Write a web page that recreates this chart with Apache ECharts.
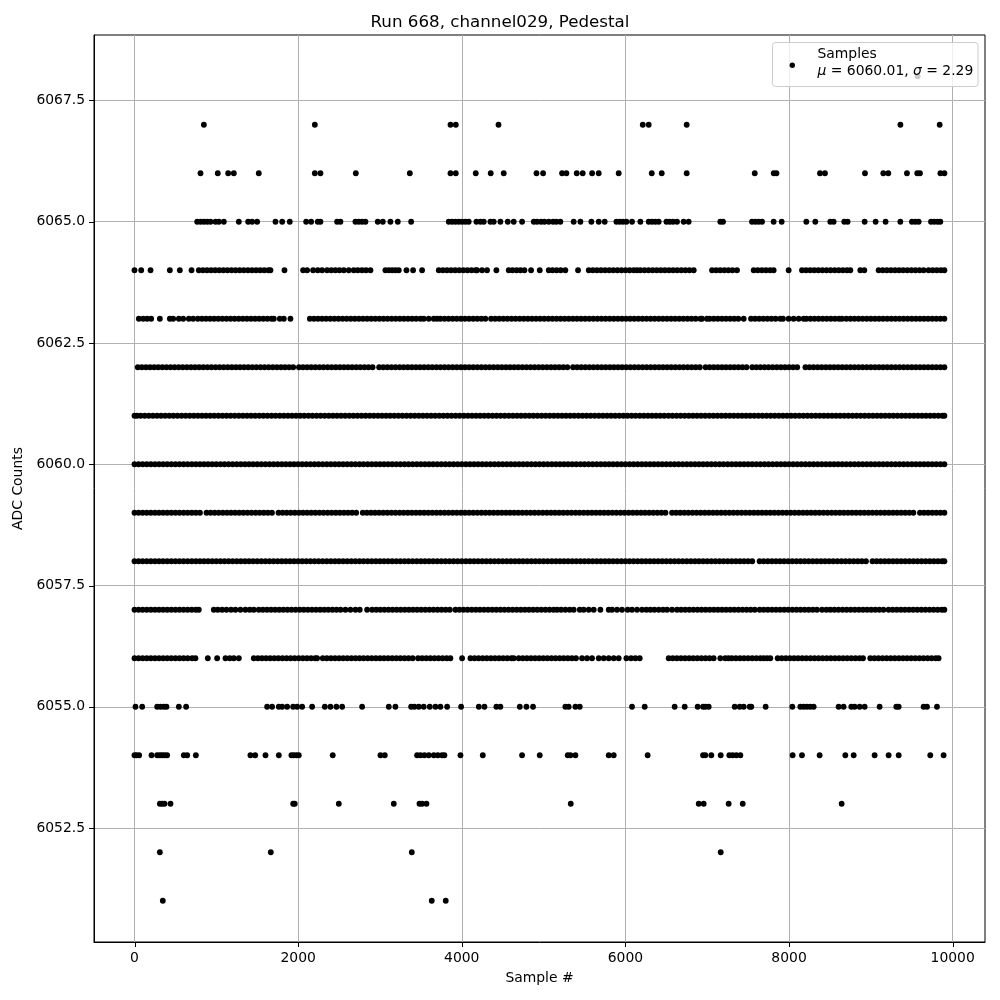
<!DOCTYPE html>
<html><head><meta charset="utf-8">
<script src="https://cdn.jsdelivr.net/npm/echarts@6/dist/echarts.min.js"></script>
<style>html,body{margin:0;padding:0;background:#fff}#c{width:1000px;height:1000px}</style>
</head><body><div id="c"></div>
<script>
// ---- data: sample indices (x) at each ADC level (y) ----
const levels = [6051,6052,6053,6054,6055,6056,6057,6058,6059,6060,6061,6062,6063,6064,6065,6066,6067,6068];

const lvl6051 = [346,3633,3804];
const lvl6052 = [310,1666,3389,7165];
const lvl6053 = [310,338,367,440,1939,1959,2497,3169,3483,3515,3568,5332,6896,6957,7262,7434,8643];
const lvl6054 = [0,25,57,208,277,310,338,367,399,603,644,750,1417,1475,1601,1764,1918,1947,1980,2008,2423,3006,3059,3454,3495,3544,3597,3658,3707,3759,3788,3984,4257,4737,4953,5295,5328,5389,5796,5857,6272,6949,6977,7050,7165,7270,7311,7356,7405,8044,8158,8374,8688,8790,9046,9217,9340,9726,9889];
const lvl6055 = [12,94,277,318,358,391,542,631,1621,1682,1764,1805,1866,1939,1988,2049,2171,2326,2395,2468,2538,2782,3108,3189,3381,3421,3474,3535,3609,3678,3739,3821,3992,4208,4277,4423,4472,4709,4790,4871,5266,5307,5389,5442,6081,6236,6602,6725,6883,6949,6977,7018,7336,7397,7446,7519,7539,7714,8040,8138,8179,8219,8260,8301,8606,8667,8761,8802,8863,8924,9107,9311,9340,9645,9686,9808];
const lvl6056 = [0,50,100,150,200,250,300,350,400,450,500,550,600,650,705,745,896,1010,1112,1165,1214,1275,1458,1508,1558,1608,1658,1708,1758,1808,1858,1908,1958,2008,2058,2108,2158,2208,2232,2301,2351,2401,2451,2501,2551,2601,2651,2701,2750,2800,2850,2900,2950,3000,3050,3100,3150,3200,3250,3300,3350,3400,3466,3516,3566,3616,3666,3716,3766,3816,3861,4004,4106,4156,4206,4256,4306,4356,4406,4456,4506,4556,4606,4635,4696,4746,4796,4846,4896,4946,4996,5046,5096,5146,5196,5246,5296,5346,5396,5470,5531,5592,5674,5735,5796,5857,5918,6012,6069,6122,6175,6529,6579,6629,6679,6729,6779,6829,6879,6929,6979,7029,7079,7160,7220,7260,7300,7350,7400,7450,7500,7550,7600,7650,7690,7731,7771,7861,7911,7961,8011,8061,8111,8161,8211,8261,8311,8361,8411,8461,8511,8561,8611,8661,8711,8761,8811,8861,8904,8993,9043,9093,9143,9193,9243,9293,9343,9393,9443,9493,9543,9593,9643,9693,9743,9793,9828];
const lvl6057 = [0,50,100,150,200,250,300,350,400,450,500,550,600,650,700,750,786,969,1018,1071,1124,1181,1234,1295,1356,1409,1458,1519,1569,1619,1669,1719,1769,1819,1869,1919,1969,2019,2069,2119,2169,2219,2269,2319,2369,2419,2469,2519,2578,2639,2700,2753,2843,2904,2954,3004,3054,3104,3154,3204,3254,3304,3354,3404,3454,3504,3554,3604,3654,3704,3754,3804,3854,3922,3972,4022,4072,4122,4172,4222,4272,4322,4372,4422,4472,4522,4572,4622,4672,4722,4772,4822,4872,4922,4972,5022,5072,5122,5165,5214,5266,5319,5368,5442,5490,5552,5613,5694,5796,5837,5898,5959,6028,6081,6142,6203,6256,6305,6354,6407,6460,6509,6570,6631,6681,6731,6781,6831,6881,6931,6981,7031,7081,7131,7181,7231,7281,7331,7381,7431,7481,7531,7581,7641,7691,7741,7791,7841,7891,7941,7991,8041,8091,8141,8191,8241,8291,8341,8403,8456,8504,8554,8604,8654,8704,8754,8804,8854,8904,8954,9004,9054,9104,9154,9217,9267,9317,9367,9417,9467,9517,9567,9617,9667,9717,9767,9817,9867,9899];
const lvl6058 = [0,50,100,150,200,250,300,350,400,450,500,550,600,650,700,750,800,850,900,950,1000,1050,1100,1150,1200,1250,1300,1350,1400,1450,1500,1550,1600,1650,1700,1750,1800,1850,1900,1950,2000,2050,2100,2150,2200,2250,2300,2350,2400,2450,2500,2550,2600,2650,2700,2750,2800,2850,2900,2950,3000,3050,3100,3150,3200,3250,3300,3350,3400,3450,3500,3550,3600,3650,3700,3750,3800,3850,3900,3950,4000,4050,4100,4150,4200,4250,4300,4350,4400,4450,4500,4550,4600,4650,4700,4750,4800,4850,4900,4950,5000,5050,5100,5150,5200,5250,5300,5350,5400,5450,5500,5550,5600,5650,5700,5750,5800,5850,5900,5950,6000,6050,6100,6150,6200,6250,6300,6350,6400,6450,6500,6550,6600,6650,6700,6750,6800,6850,6900,6950,7000,7050,7100,7150,7200,7250,7300,7350,7400,7450,7500,7550,7640,7690,7740,7790,7840,7890,7940,7990,8040,8090,8140,8190,8240,8290,8340,8390,8440,8490,8540,8590,8640,8690,8740,8790,8840,8890,8940,9020,9070,9120,9170,9220,9270,9320,9370,9420,9470,9520,9570,9620,9670,9720,9770,9820,9870,9899];
const lvl6059 = [0,50,100,150,200,250,300,350,400,450,500,550,600,650,700,750,800,880,930,980,1030,1080,1130,1180,1230,1280,1330,1380,1430,1480,1530,1580,1630,1680,1760,1810,1860,1910,1960,2010,2060,2110,2160,2210,2260,2310,2360,2410,2460,2510,2560,2610,2660,2710,2790,2840,2890,2940,2990,3040,3090,3140,3190,3240,3290,3340,3390,3440,3490,3540,3590,3640,3690,3740,3790,3840,3890,3940,3990,4040,4090,4140,4190,4240,4290,4340,4390,4440,4490,4540,4590,4640,4690,4740,4790,4840,4890,4940,4990,5040,5090,5140,5190,5240,5290,5340,5390,5440,5490,5540,5590,5640,5690,5740,5790,5840,5890,5940,5990,6040,6090,6140,6190,6240,6290,6340,6390,6440,6490,6570,6620,6670,6720,6770,6820,6870,6920,6970,7020,7070,7120,7170,7220,7270,7320,7370,7420,7470,7520,7570,7620,7670,7720,7770,7820,7870,7920,7970,8020,8070,8120,8170,8220,8270,8320,8370,8420,8470,8520,8570,8620,8670,8720,8770,8820,8870,8920,8970,9020,9070,9120,9170,9220,9270,9320,9370,9420,9470,9520,9600,9650,9700,9750,9800,9850,9899];
const lvl6060 = [0,50,100,150,200,250,300,350,400,450,500,550,600,650,700,750,800,850,900,950,1000,1050,1100,1150,1200,1250,1300,1350,1400,1450,1500,1550,1600,1650,1700,1750,1800,1850,1900,1950,2000,2050,2100,2150,2200,2250,2300,2350,2400,2450,2500,2550,2600,2650,2700,2750,2800,2850,2900,2950,3000,3050,3100,3150,3200,3250,3300,3350,3400,3450,3500,3550,3600,3650,3700,3750,3800,3850,3900,3950,4000,4050,4100,4150,4200,4250,4300,4350,4400,4450,4500,4550,4600,4650,4700,4750,4800,4850,4900,4950,5000,5050,5100,5150,5200,5250,5300,5350,5400,5450,5500,5550,5600,5650,5700,5750,5800,5850,5900,5950,6000,6050,6100,6150,6200,6250,6300,6350,6400,6450,6500,6550,6600,6650,6700,6750,6800,6850,6900,6950,7000,7050,7100,7150,7200,7250,7300,7350,7400,7450,7500,7550,7600,7650,7700,7750,7800,7850,7900,7950,8000,8050,8100,8150,8200,8250,8300,8350,8400,8450,8500,8550,8600,8650,8700,8750,8800,8850,8900,8950,9000,9050,9100,9150,9200,9250,9300,9350,9400,9450,9500,9550,9600,9650,9700,9750,9800,9850,9899];
const lvl6061 = [0,30,75,125,175,225,275,325,375,425,475,525,575,625,675,725,775,825,875,925,975,1025,1075,1125,1175,1225,1275,1325,1375,1425,1475,1525,1575,1625,1675,1725,1775,1825,1875,1925,1975,2025,2075,2125,2175,2225,2275,2325,2375,2425,2475,2525,2575,2625,2675,2725,2775,2825,2875,2925,2975,3025,3075,3125,3175,3225,3275,3325,3375,3425,3475,3525,3575,3625,3675,3725,3775,3825,3875,3925,3975,4025,4075,4125,4175,4225,4275,4325,4375,4425,4475,4525,4575,4625,4675,4725,4775,4825,4875,4925,4975,5025,5075,5125,5175,5225,5275,5325,5375,5425,5475,5525,5575,5625,5675,5725,5775,5825,5875,5925,5975,6025,6075,6125,6175,6225,6275,6325,6375,6425,6475,6525,6575,6625,6675,6725,6775,6825,6875,6925,6975,7025,7075,7125,7175,7225,7275,7325,7375,7425,7475,7525,7575,7625,7675,7725,7775,7825,7875,7925,7975,8025,8075,8125,8175,8225,8275,8325,8375,8425,8475,8525,8575,8625,8675,8725,8775,8825,8875,8925,8975,9025,9075,9125,9175,9225,9275,9325,9375,9425,9475,9525,9575,9625,9675,9725,9775,9825,9875,9899];
const lvl6062 = [40,90,140,190,240,290,340,390,440,490,540,590,640,690,740,790,840,890,940,990,1040,1090,1140,1190,1240,1290,1340,1390,1440,1490,1540,1590,1640,1690,1740,1790,1840,1890,1940,2010,2060,2110,2160,2210,2260,2310,2360,2410,2460,2510,2560,2610,2660,2710,2760,2810,2860,2910,2990,3040,3090,3140,3190,3240,3290,3340,3390,3440,3490,3540,3590,3640,3690,3740,3790,3840,3890,3940,3990,4040,4090,4140,4190,4240,4290,4340,4390,4440,4490,4540,4590,4640,4690,4740,4790,4840,4890,4940,4990,5040,5090,5140,5190,5240,5290,5360,5410,5460,5510,5560,5610,5660,5710,5760,5810,5860,5910,5960,6010,6060,6110,6160,6210,6260,6310,6360,6410,6460,6510,6560,6610,6660,6710,6760,6810,6860,6910,6980,7030,7080,7130,7180,7230,7280,7330,7380,7430,7480,7550,7600,7650,7700,7750,7800,7850,7900,7950,8000,8050,8100,8200,8250,8300,8350,8400,8450,8500,8550,8600,8650,8700,8750,8800,8850,8900,8950,9000,9050,9100,9150,9200,9250,9300,9350,9400,9450,9500,9550,9600,9650,9700,9750,9800,9850,9899];
const lvl6063 = [53,106,155,204,310,432,473,542,595,664,717,774,824,874,924,974,1024,1074,1124,1174,1224,1274,1324,1374,1424,1474,1524,1574,1624,1674,1703,1776,1825,1906,2143,2193,2243,2293,2343,2393,2443,2493,2543,2593,2643,2693,2743,2793,2843,2893,2943,2993,3043,3093,3143,3193,3243,3293,3343,3393,3443,3495,3535,3596,3658,3698,3739,3789,3839,3889,3939,3989,4039,4089,4139,4189,4239,4289,4358,4408,4458,4508,4558,4608,4658,4708,4758,4808,4858,4908,4958,5008,5058,5108,5158,5208,5258,5308,5358,5408,5458,5508,5558,5608,5658,5708,5758,5808,5858,5908,5958,6008,6058,6108,6158,6208,6258,6308,6358,6408,6458,6508,6558,6608,6658,6708,6758,6808,6858,6916,6936,6997,7030,7080,7130,7180,7230,7280,7330,7380,7446,7535,7585,7635,7685,7735,7785,7835,7893,7926,7995,8056,8118,8179,8211,8261,8311,8361,8411,8461,8511,8561,8611,8647,8700,8750,8800,8850,8900,8950,9000,9050,9100,9150,9200,9250,9300,9350,9400,9450,9500,9550,9600,9650,9700,9750,9800,9850,9899];
const lvl6064 = [0,82,196,432,554,697,786,836,886,936,986,1036,1086,1136,1186,1236,1286,1336,1386,1436,1486,1536,1586,1636,1662,1833,2061,2110,2183,2240,2293,2354,2405,2455,2505,2558,2619,2680,2729,2780,2830,2884,3067,3110,3150,3190,3230,3324,3405,3515,3719,3769,3819,3869,3919,3969,4019,4069,4119,4169,4187,4248,4309,4423,4574,4620,4670,4717,4766,4847,4953,5063,5110,5160,5210,5266,5421,5552,5602,5652,5702,5752,5802,5852,5902,5952,6002,6052,6102,6142,6183,6233,6283,6333,6383,6433,6483,6533,6583,6633,6683,6733,6783,6835,7059,7109,7159,7209,7259,7309,7364,7568,7618,7668,7718,7768,7812,7995,8158,8208,8258,8308,8358,8408,8458,8508,8558,8608,8658,8708,8749,8871,8920,9095,9145,9195,9245,9295,9345,9395,9445,9495,9545,9595,9645,9706,9756,9806,9856,9899];
const lvl6065 = [766,807,847,888,929,990,1031,1092,1275,1389,1438,1499,1723,1805,1898,2098,2159,2240,2273,2476,2517,2700,2741,2782,2823,2973,3035,3128,3218,3381,3841,3882,3922,3963,4004,4045,4085,4179,4228,4269,4350,4391,4472,4562,4635,4737,4880,4920,4969,5010,5063,5116,5156,5205,5368,5450,5584,5674,5747,5890,5930,5971,6012,6081,6183,6285,6325,6366,6407,6501,6541,6582,6631,6712,6773,7160,7193,7547,7588,7629,7670,7812,7910,8211,8321,8504,8545,8675,8716,8924,9058,9180,9360,9502,9543,9584,9735,9775,9816,9849];
const lvl6066 = [807,1018,1145,1214,1519,2204,2273,2705,3365,3862,3927,4171,4354,4513,4913,4994,5226,5279,5405,5478,5593,5674,5918,6322,6444,6749,7581,7813,7846,8378,8439,8928,9152,9213,9441,9567,9600,9850,9899];
const lvl6067 = [848,2204,3862,3927,4449,6212,6285,6749,9361,9841];
const lvl6068 = [9572];

const samplesByLevel = [lvl6051,lvl6052,lvl6053,lvl6054,lvl6055,lvl6056,lvl6057,lvl6058,lvl6059,lvl6060,lvl6061,lvl6062,lvl6063,lvl6064,lvl6065,lvl6066,lvl6067,lvl6068];

const xTicks = [0,2000,4000,6000,8000,10000];
const yTicks = [6052.5,6055,6057.5,6060,6062.5,6065,6067.5];
const xRange = [-495, 10395];
const yRange = [6050.15, 6068.85];

const titleText = 'Run 668, channel029, Pedestal';
const legendName = 'Samples';
const legendStats = '{i|μ} = 6060.01, {i|σ} = 2.29';

// ---- build ----
const points = [];
levels.forEach((lv, i) => samplesByLevel[i].forEach(x => points.push([x, lv])));

const FONT = 'DejaVu Sans';
const chart = echarts.init(document.getElementById('c'), null, {renderer: 'canvas'});
chart.setOption({
  animation: false,
  backgroundColor: '#ffffff',
  title: {
    text: titleText, left: 'center', top: 9,
    textStyle: {fontFamily: FONT, fontSize: 16.7, fontWeight: 'normal', color: '#000'}
  },
  grid: {left: 94, right: 15, top: 35, bottom: 58, show: true, borderColor: '#000', borderWidth: 1, containLabel: false},
  xAxis: {
    type: 'value', position: 'bottom', min: xRange[0], max: xRange[1],
    name: 'Sample #', nameLocation: 'middle', nameGap: 29,
    nameTextStyle: {fontFamily: FONT, fontSize: 13.9, color: '#000'},
    axisLine: {show: true, onZero: false, lineStyle: {color: '#000', width: 1}},
    axisTick: {show: true, length: 5, customValues: xTicks, lineStyle: {color: '#000', opacity: 0}},
    axisLabel: {customValues: xTicks, margin: 9, fontFamily: FONT, fontSize: 13.9, color: '#000', formatter: v => String(v)},
    splitLine: {show: true, lineStyle: {color: '#b0b0b0', width: 1}}
  },
  yAxis: {
    type: 'value', position: 'left', min: yRange[0], max: yRange[1],
    name: 'ADC Counts', nameLocation: 'middle', nameGap: 57, nameRotate: 90,
    nameTextStyle: {fontFamily: FONT, fontSize: 13.9, color: '#000'},
    axisLine: {show: true, onZero: false, lineStyle: {color: '#000', width: 1}},
    axisTick: {show: true, length: 5, customValues: yTicks, lineStyle: {color: '#000', opacity: 0}},
    axisLabel: {customValues: yTicks, margin: 9, fontFamily: FONT, fontSize: 13.9, color: '#000', formatter: v => Number(v).toFixed(1)},
    splitLine: {show: true, lineStyle: {color: '#b0b0b0', width: 1}}
  },
  series: [{
    name: legendName, type: 'scatter', data: points,
    symbol: 'circle', symbolSize: 5.8,
    itemStyle: {color: '#000', opacity: 1}, large: false, z: 3
  }]
});

// outward tick marks placed through the axes' own scales
const bottomPx = chart.convertToPixel({yAxisIndex: 0}, yRange[0]);
const leftPx = chart.convertToPixel({xAxisIndex: 0}, xRange[0]);
const tickEls = [];
xTicks.forEach(v => {
  const px = Math.round(chart.convertToPixel({xAxisIndex: 0}, v)) + 0.5;
  tickEls.push({type: 'line', z: 50, silent: true, shape: {x1: px, y1: bottomPx, x2: px, y2: bottomPx + 5}, style: {stroke: '#000', lineWidth: 1}});
});
yTicks.forEach(v => {
  const py = Math.round(chart.convertToPixel({yAxisIndex: 0}, v)) + 0.5;
  tickEls.push({type: 'line', z: 50, silent: true, shape: {x1: leftPx - 5, y1: py, x2: leftPx, y2: py}, style: {stroke: '#000', lineWidth: 1}});
});

chart.setOption({
  graphic: tickEls.concat([
    {type: 'rect', z: 100, shape: {x: 772.5, y: 42.5, width: 205.5, height: 44, r: 3},
     style: {fill: 'rgba(255,255,255,0.8)', stroke: '#cccccc', lineWidth: 1}},
    {type: 'circle', z: 101, shape: {cx: 792.3, cy: 65.3, r: 2.7}, style: {fill: '#000'}},
    {type: 'text', z: 101, style: {x: 817.5, y: 54.5, text: legendName, fill: '#000', fontFamily: FONT, fontSize: 13.9, verticalAlign: 'middle', align: 'left'}},
    {type: 'text', z: 101, style: {x: 817.5, y: 71.5, text: legendStats, fill: '#000', fontFamily: FONT, fontSize: 13.9, verticalAlign: 'middle', align: 'left',
      rich: {i: {fontStyle: 'italic', fontFamily: FONT, fontSize: 13.9, fill: '#000'}}}}
  ])
});
</script>
</body></html>
